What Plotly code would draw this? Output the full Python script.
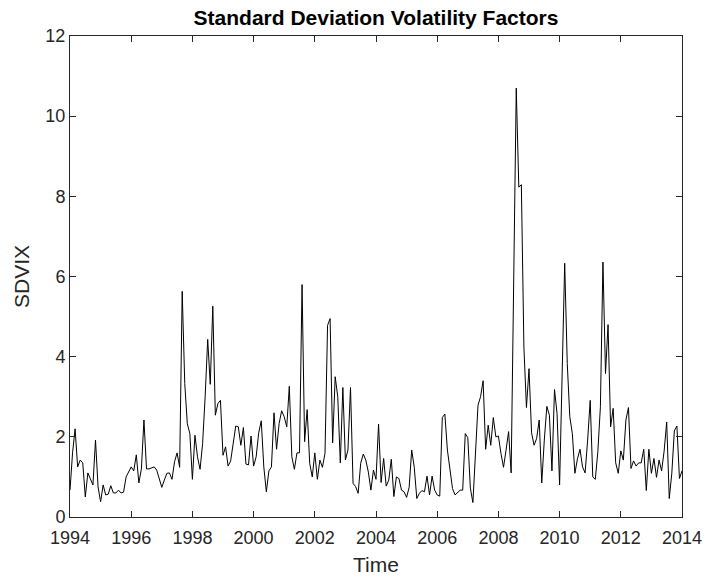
import plotly.graph_objects as go

# Monthly standard-deviation volatility factor (SDVIX), Jan 1994 .. Jan 2014
start_year = 1994
sdvix = [
    0.67, 1.6, 2.2, 1.25, 1.42, 1.35, 0.5, 1.1, 0.95, 0.8, 1.92, 0.75,
    0.38, 0.8, 0.55, 0.57, 0.78, 0.6, 0.6, 0.67, 0.6, 0.62, 1.0, 1.13,
    1.25, 1.15, 1.55, 0.85, 1.2, 2.42, 1.2, 1.2, 1.22, 1.25, 1.17, 0.96,
    0.74, 0.92, 1.09, 1.1, 0.94, 1.38, 1.6, 1.24, 5.63, 3.33, 2.33, 2.08,
    0.94, 2.04, 1.5, 1.19, 1.83, 3.0, 4.43, 3.31, 5.26, 2.54, 2.83, 2.91,
    1.54, 1.75, 1.27, 1.4, 1.9, 2.27, 2.25, 1.79, 2.23, 1.32, 1.3, 2.02,
    1.27, 1.5, 2.1, 2.4, 1.25, 0.63, 1.15, 1.25, 2.6, 1.69, 2.33, 2.65,
    2.5, 2.25, 3.26, 1.5, 1.19, 1.6, 1.6, 5.8, 1.88, 2.68, 1.34, 1.0,
    1.6, 0.94, 1.42, 1.24, 1.59, 4.78, 4.95, 1.85, 3.5, 3.0, 1.35, 3.23,
    1.42, 1.67, 3.23, 0.84, 0.76, 0.59, 1.34, 1.57, 1.42, 1.12, 0.67, 1.17,
    0.94, 2.32, 0.86, 1.46, 0.77, 0.92, 1.44, 0.51, 1.0, 0.96, 0.67, 0.63,
    0.49, 0.74, 1.67, 1.24, 0.46, 0.59, 0.66, 0.63, 1.02, 0.55, 1.02, 0.67,
    0.55, 0.52, 2.48, 2.57, 1.67, 1.17, 0.71, 0.55, 0.61, 0.67, 0.67, 2.08,
    1.98, 0.72, 0.36, 1.7, 2.79, 3.0, 3.4, 1.69, 2.29, 1.79, 2.48, 2.0,
    2.02, 1.59, 1.24, 1.67, 2.13, 1.1, 6.0, 10.7, 8.23, 8.29, 4.24, 2.73,
    3.7, 2.1, 1.79, 1.96, 2.42, 0.85, 1.92, 2.76, 2.54, 1.15, 3.18, 2.58,
    0.8, 3.5, 6.33, 3.83, 2.5, 2.08, 1.09, 1.45, 1.69, 1.25, 1.1, 1.92,
    2.91, 1.0, 0.94, 1.63, 2.75, 6.36, 3.58, 4.8, 2.25, 2.71, 1.35, 1.09,
    1.65, 1.42, 2.42, 2.73, 1.21, 1.4, 1.27, 1.35, 1.35, 1.69, 0.66, 1.69,
    1.09, 1.46, 0.99, 1.42, 1.15, 1.65, 2.37, 0.46, 1.09, 2.15, 2.27, 0.96,
    1.15,
]
time = [start_year + i / 12 for i in range(len(sdvix))]

x_ticks = list(range(1994, 2015, 2))
y_ticks = list(range(0, 13, 2))

axis_color = "#262626"
font_family = "Liberation Sans, Arial, Helvetica, sans-serif"

fig = go.Figure()
fig.add_trace(go.Scatter(
    x=time, y=sdvix, mode="lines",
    line=dict(color="black", width=1),
    showlegend=False, hoverinfo="x+y",
))

common_axis = dict(
    showline=True, linecolor=axis_color, linewidth=1, mirror="ticks",
    ticks="inside", ticklen=6, tickwidth=1, tickcolor=axis_color,
    showgrid=False, zeroline=False, automargin=False,
    tickfont=dict(family=font_family, size=18, color=axis_color),
)

fig.update_layout(
    width=707, height=579,
    margin=dict(l=70, r=25, t=36, b=62),
    paper_bgcolor="white", plot_bgcolor="white",
    title=dict(
        text="<b>Standard Deviation Volatility Factors</b>",
        font=dict(family=font_family, size=21, color="black"),
        x=(70 + 682) / 2 / 707, xanchor="center",
        y=1 - 18 / 579, yanchor="middle", yref="container",
    ),
    xaxis=dict(
        range=[1994, 2014], tickvals=x_ticks,
        ticktext=[str(v) for v in x_ticks],
        ticklabelstandoff=4,
        title=dict(text="Time", standoff=10,
                   font=dict(family=font_family, size=21, color=axis_color)),
        **common_axis,
    ),
    yaxis=dict(
        range=[0, 12], tickvals=y_ticks,
        ticktext=[str(v) for v in y_ticks],
        title=dict(text="SDVIX", standoff=10,
                   font=dict(family=font_family, size=21, color=axis_color)),
        **common_axis,
    ),
)

fig.write_html("out.html")
